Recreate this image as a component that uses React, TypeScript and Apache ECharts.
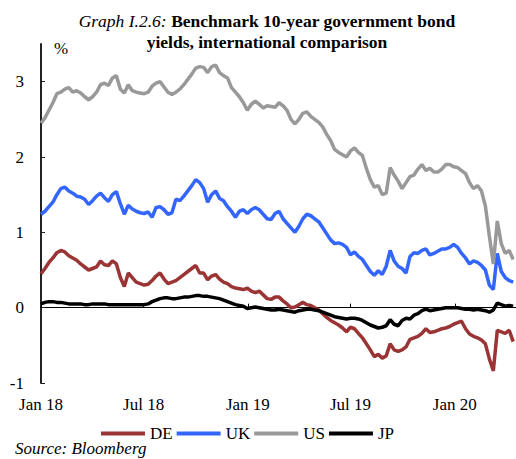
import React, { useEffect, useRef } from "react";
import * as echarts from "echarts";

// Weekly observations, starting Mon 1 Jan 2018 (x = days since 1 Jan 2018)
const DAY_STEP = 7;
const tickDays = [0, 181, 365, 546, 730];
const tickLabels = ["Jan 18", "Jul 18", "Jan 19", "Jul 19", "Jan 20"];
const yTicks = [-1, 0, 1, 2, 3];

const DE = [
  0.45, 0.52, 0.6, 0.66, 0.73, 0.76, 0.74, 0.69, 0.66, 0.63,
  0.58, 0.54, 0.5, 0.52, 0.54, 0.62, 0.57, 0.56, 0.62, 0.58,
  0.4, 0.28, 0.46, 0.4, 0.34, 0.32, 0.3, 0.31, 0.36, 0.42,
  0.46, 0.38, 0.32, 0.34, 0.36, 0.4, 0.44, 0.48, 0.52, 0.56,
  0.46, 0.46, 0.37, 0.42, 0.44, 0.38, 0.34, 0.32, 0.28, 0.26,
  0.25, 0.24, 0.26, 0.22, 0.2, 0.22, 0.17, 0.12, 0.11, 0.14,
  0.14, 0.09, 0.05, 0.0, 0.01, 0.04, 0.07, 0.04, 0.03, 0.0,
  -0.03, -0.08, -0.13, -0.17, -0.2, -0.23, -0.27, -0.32, -0.26, -0.28,
  -0.34, -0.4, -0.48, -0.56, -0.65, -0.62, -0.67, -0.64, -0.48, -0.56,
  -0.58, -0.56, -0.52, -0.42, -0.4, -0.38, -0.34, -0.28, -0.33, -0.32,
  -0.3, -0.28, -0.27, -0.25, -0.22, -0.2, -0.18, -0.28, -0.35, -0.38,
  -0.4, -0.43, -0.48, -0.68, -0.84, -0.3, -0.32, -0.34, -0.3, -0.45,
];

const UK = [
  1.24, 1.28, 1.34, 1.4, 1.5, 1.58, 1.6, 1.55, 1.52, 1.48,
  1.47, 1.44, 1.37, 1.42, 1.48, 1.52, 1.46, 1.41, 1.5, 1.54,
  1.38, 1.24, 1.36, 1.31, 1.28, 1.26, 1.25, 1.27, 1.2, 1.33,
  1.34, 1.3, 1.24, 1.26, 1.44, 1.42, 1.48, 1.55, 1.62, 1.7,
  1.66, 1.58, 1.4, 1.5, 1.55, 1.45, 1.42, 1.34, 1.28, 1.2,
  1.28, 1.3, 1.25, 1.3, 1.33, 1.3, 1.24, 1.18, 1.17, 1.25,
  1.28, 1.18, 1.12, 1.06, 1.0, 1.08, 1.18, 1.24, 1.22, 1.18,
  1.14, 1.06, 0.98, 0.9, 0.85, 0.86, 0.84, 0.8, 0.7, 0.74,
  0.68, 0.64, 0.56, 0.48, 0.43, 0.49, 0.44, 0.55, 0.76, 0.62,
  0.55, 0.52, 0.46, 0.68, 0.73, 0.72, 0.76, 0.78, 0.7, 0.72,
  0.75, 0.78, 0.78, 0.8, 0.84, 0.8, 0.72, 0.66, 0.58, 0.62,
  0.6, 0.56, 0.5, 0.3, 0.24, 0.72, 0.48, 0.4, 0.36, 0.34,
];

const US = [
  2.45, 2.52, 2.62, 2.72, 2.84, 2.86, 2.9, 2.92, 2.86, 2.88,
  2.85, 2.8, 2.76, 2.8, 2.86, 2.96, 2.98, 2.95, 3.05, 3.08,
  2.9, 2.85, 2.96, 2.88, 2.86, 2.85, 2.84, 2.86, 2.94, 2.98,
  3.0, 2.93, 2.86, 2.83, 2.86, 2.9, 2.96, 3.03, 3.1, 3.18,
  3.2, 3.19, 3.12, 3.2, 3.22, 3.12, 3.08, 3.05, 2.92, 2.86,
  2.8, 2.72, 2.62, 2.7, 2.74, 2.7, 2.65, 2.68, 2.67, 2.66,
  2.72, 2.68, 2.62, 2.5, 2.44, 2.5, 2.58, 2.6, 2.54, 2.5,
  2.46, 2.4, 2.3, 2.22, 2.1, 2.06, 2.03, 2.0, 2.08, 2.12,
  2.06, 2.02, 1.85, 1.7, 1.6, 1.62, 1.5, 1.52, 1.86, 1.76,
  1.68, 1.58, 1.66, 1.74, 1.76, 1.84, 1.9, 1.82, 1.85, 1.8,
  1.8, 1.84, 1.9, 1.9, 1.87, 1.86, 1.82, 1.78, 1.66, 1.58,
  1.62, 1.55, 1.35, 0.95, 0.58, 1.15, 0.85, 0.72, 0.76, 0.64,
];

const JP = [
  0.05, 0.07, 0.08, 0.08, 0.07, 0.07, 0.06, 0.05, 0.05, 0.05,
  0.05, 0.04, 0.04, 0.05, 0.05, 0.05, 0.05, 0.04, 0.04, 0.04,
  0.04, 0.04, 0.04, 0.04, 0.04, 0.04, 0.04, 0.05, 0.08, 0.1,
  0.12, 0.13, 0.13, 0.12, 0.12, 0.13, 0.14, 0.14, 0.15, 0.16,
  0.16, 0.15, 0.15, 0.14, 0.13, 0.12, 0.1, 0.08, 0.06, 0.04,
  0.03, 0.02, -0.01, 0.0, 0.01, 0.0, -0.01, -0.02, -0.03, -0.03,
  -0.02, -0.03, -0.04, -0.05, -0.06, -0.04, -0.03, -0.02, -0.02, -0.03,
  -0.04, -0.06, -0.08, -0.1, -0.12, -0.13, -0.14, -0.15, -0.14, -0.14,
  -0.15, -0.17, -0.2, -0.23, -0.25, -0.27, -0.26, -0.24, -0.16, -0.22,
  -0.24, -0.17, -0.14, -0.15, -0.1, -0.08, -0.04, -0.02, -0.04, -0.03,
  -0.02, -0.01, 0.0, 0.0, 0.0, 0.0, -0.01, -0.02, -0.02, -0.03,
  -0.02, -0.03, -0.04, -0.06, -0.03, 0.06, 0.04, 0.02, 0.03, 0.02,
];

const seriesNames = ["DE", "UK", "US", "JP"];
const seriesValues = [DE, UK, US, JP];
const colors = ["#9b3434", "#3366ff", "#999999", "#000000"];

const FONT = "'Liberation Serif', 'Times New Roman', serif";

export default function App() {
  const ref = useRef<HTMLDivElement>(null);
  useEffect(() => {
    if (!ref.current) return;
    const chart = echarts.init(ref.current, null, { renderer: "svg" });
    const labelOf = (v: number) => {
      const k = tickDays.indexOf(v);
      return k >= 0 ? tickLabels[k] : "";
    };
    chart.setOption({
      animation: false,
      backgroundColor: "#ffffff",
      textStyle: { fontFamily: FONT },
      grid: { left: 41, right: 0, top: 44, bottom: 76, containLabel: false },
      graphic: [
        {
          type: "text",
          x: 267,
          y: 10,
          style: {
            text: "{i|Graph I.2.6:} {b|Benchmark 10-year government bond}\n{b|yields, international comparison}",
            align: "center",
            fontFamily: FONT,
            fontSize: 17.5,
            lineHeight: 21,
            fill: "#000",
            rich: {
              i: { fontStyle: "italic", fontWeight: "normal", fontSize: 17.5, fontFamily: FONT, fill: "#000", lineHeight: 21 },
              b: { fontWeight: "bold", fontSize: 17.5, fontFamily: FONT, fill: "#000", lineHeight: 21 },
            },
          },
        },
        {
          type: "text",
          x: 54,
          y: 40,
          style: { text: "%", fontFamily: FONT, fontSize: 17, fill: "#000" },
        },
        {
          type: "text",
          x: 15,
          y: 440,
          style: { text: "Source: Bloomberg", fontFamily: FONT, fontSize: 17, fontStyle: "italic", fill: "#000" },
        },
      ],
      legend: {
        left: 96,
        top: 420,
        itemWidth: 44,
        itemHeight: 4,
        itemGap: 4,
        icon: "rect",
        data: seriesNames,
        textStyle: { fontFamily: FONT, fontSize: 17, color: "#000", width: 46, padding: [0, 0, 0, 0] },
      },
      xAxis: [
        {
          type: "value",
          min: 0,
          max: 838,
          axisLine: { onZero: true, lineStyle: { color: "#000", width: 1 } },
          axisTick: { show: true, inside: true, length: 4, customValues: tickDays, lineStyle: { color: "#000" } },
          axisLabel: { show: false },
          splitLine: { show: false },
        },
        {
          type: "value",
          position: "bottom",
          min: 0,
          max: 838,
          axisLine: { show: false, onZero: false },
          axisTick: { show: false },
          axisLabel: {
            show: true,
            customValues: tickDays,
            formatter: (v: number) => labelOf(v),
            fontFamily: FONT,
            fontSize: 17,
            color: "#000",
            margin: 13,
          },
          splitLine: { show: false },
        },
      ],
      yAxis: {
        type: "value",
        min: -1,
        max: 3.5,
        interval: 1,
        axisLine: { show: true, lineStyle: { color: "#222", width: 2 } },
        axisTick: { show: true, inside: true, length: 4, customValues: yTicks, lineStyle: { color: "#222" } },
        axisLabel: {
          customValues: yTicks,
          fontFamily: FONT,
          fontSize: 17,
          color: "#000",
          margin: 17,
        },
        splitLine: { show: false },
      },
      series: seriesNames.map((name, s) => ({
        name,
        type: "line",
        xAxisIndex: 0,
        showSymbol: false,
        symbol: "none",
        color: colors[s],
        lineStyle: { width: 3.5, color: colors[s] },
        data: seriesValues[s].map((v, i) => [i * DAY_STEP, v]),
      })),
    });
    return () => chart.dispose();
  }, []);
  return <div ref={ref} style={{ width: 516, height: 459, position: "absolute", left: 0, top: 0 }} />;
}
